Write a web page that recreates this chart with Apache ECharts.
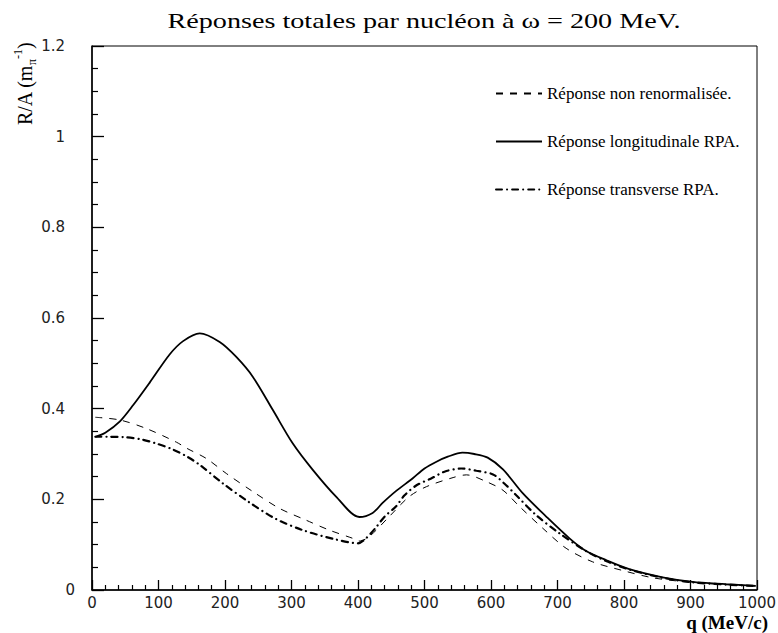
<!DOCTYPE html>
<html>
<head>
<meta charset="utf-8">
<script src="https://cdn.jsdelivr.net/npm/echarts@6/dist/echarts.min.js"></script>
<style>
  html, body { margin: 0; padding: 0; background: #fff; }
  #chart { width: 778px; height: 633px; }
</style>
</head>
<body>
<div id="chart"></div>
<script>
// Total response per nucleon at omega = 200 MeV, as a function of q (MeV/c)

// Non-renormalised response
const qBare = [5, 42, 82, 127, 142, 172, 202, 242, 282, 322, 357, 392, 402, 417, 447, 477, 503, 543, 563, 593, 618, 643, 678, 713, 753, 798, 843, 893, 950, 998];
const rBare = [0.381, 0.375, 0.356, 0.326, 0.313, 0.290, 0.257, 0.217, 0.180, 0.154, 0.132, 0.114, 0.108, 0.118, 0.162, 0.206, 0.228, 0.248, 0.254, 0.239, 0.220, 0.184, 0.136, 0.092, 0.062, 0.043, 0.027, 0.018, 0.012, 0.009];

// Longitudinal RPA response
const qLong = [5, 20, 42, 62, 87, 117, 137, 162, 192, 217, 242, 272, 302, 332, 367, 402, 422, 437, 457, 482, 500, 518, 535, 557, 575, 595, 618, 648, 683, 718, 743, 773, 808, 858, 903, 953, 998];
const rLong = [0.338, 0.347, 0.372, 0.408, 0.458, 0.520, 0.549, 0.566, 0.547, 0.514, 0.470, 0.397, 0.323, 0.265, 0.206, 0.161, 0.170, 0.192, 0.218, 0.246, 0.268, 0.283, 0.294, 0.303, 0.300, 0.292, 0.266, 0.213, 0.162, 0.114, 0.086, 0.066, 0.046, 0.028, 0.018, 0.013, 0.009];

// Transverse RPA response
const qTrans = [5, 25, 50, 75, 97, 120, 142, 162, 197, 235, 275, 317, 365, 400, 412, 427, 440, 457, 470, 488, 510, 530, 555, 578, 603, 620, 638, 668, 703, 743, 773, 808, 858, 903, 953, 998];
const rTrans = [0.338, 0.338, 0.337, 0.332, 0.323, 0.311, 0.295, 0.276, 0.235, 0.195, 0.158, 0.132, 0.112, 0.103, 0.114, 0.138, 0.162, 0.184, 0.209, 0.231, 0.246, 0.261, 0.268, 0.263, 0.255, 0.235, 0.209, 0.165, 0.125, 0.086, 0.064, 0.045, 0.027, 0.017, 0.012, 0.009];

const seriesNames = ['Réponse non renormalisée.', 'Réponse longitudinale RPA.', 'Réponse transverse RPA.'];
const titleText = 'Réponses totales par nucléon à ω = 200 MeV.';
const xName = 'q (MeV/c)';

const pairs = (xs, ys) => xs.map((x, i) => [x, ys[i]]);

const serif = '"Liberation Serif", "DejaVu Serif", serif';
const sans = '"DejaVu Sans", "Liberation Sans", sans-serif';

const chart = echarts.init(document.getElementById('chart'), null, { renderer: 'svg' });

chart.setOption({
  animation: false,
  backgroundColor: '#fff',
  grid: {
    left: 92, top: 46, width: 665, height: 544,
    outerBoundsMode: 'none', containLabel: false,
    show: true, borderColor: '#000', borderWidth: 1, backgroundColor: 'transparent'
  },
  legend: {
    orient: 'vertical',
    left: 490, top: 80,
    itemWidth: 46, itemHeight: 14, itemGap: 31,
    itemStyle: { opacity: 0 },
    textStyle: { fontFamily: serif, fontSize: 17, color: '#000' },
    data: seriesNames
  },
  xAxis: {
    type: 'value', min: 0, max: 1000, interval: 100,
    axisLine: { lineStyle: { color: '#000', width: 1.5 } },
    axisTick: { inside: true, length: 10, lineStyle: { color: '#000', width: 1.3 } },
    minorTick: { show: true, splitNumber: 5, length: 5, lineStyle: { color: '#000', width: 1.2 } },
    splitLine: { show: false },
    axisLabel: { fontFamily: sans, fontSize: 15, color: '#222', margin: 5, formatter: v => String(v) }
  },
  yAxis: {
    type: 'value', min: 0, max: 1.2, interval: 0.2,
    axisLine: { lineStyle: { color: '#000', width: 1.5 } },
    axisTick: { inside: true, length: 12, lineStyle: { color: '#000', width: 1.3 } },
    minorTick: { show: true, splitNumber: 4, length: 6, lineStyle: { color: '#000', width: 1.2 } },
    splitLine: { show: false },
    axisLabel: {
      fontFamily: sans, fontSize: 15, color: '#222', margin: 17,
      formatter: v => v === 0 ? '{z|0}' : '{n|' + (+v.toFixed(1)) + '}',
      rich: {
        z: { fontFamily: sans, fontSize: 15, color: '#222' },
        n: { fontFamily: sans, fontSize: 15, color: '#222', padding: [0, 10, 0, 0] }
      }
    }
  },
  graphic: [
    {
      // chart title, widened horizontally
      type: 'text',
      x: 424, y: 20, scaleX: 1.28, scaleY: 1,
      style: {
        text: titleText, align: 'center', verticalAlign: 'middle',
        fontFamily: serif, fontSize: 22, fill: '#000'
      }
    },
    {
      // horizontal axis title, under the right end of the axis
      type: 'text',
      x: 768, y: 622,
      style: {
        text: xName, align: 'right', verticalAlign: 'middle',
        fontFamily: serif, fontSize: 19, fontWeight: 'bold', fill: '#000'
      }
    },
    {
      // vertical axis title
      type: 'text',
      x: 25, y: 84,
      rotation: Math.PI / 2,
      style: {
        text: '{a|R/A (m}{sub|π}{sup|-1}{a|)}',
        align: 'center', verticalAlign: 'middle',
        rich: {
          a: { fontFamily: serif, fontSize: 20, color: '#000', lineHeight: 26, verticalAlign: 'middle' },
          sub: { fontFamily: serif, fontSize: 12, color: '#000', lineHeight: 26, verticalAlign: 'bottom' },
          sup: { fontFamily: serif, fontSize: 12, color: '#000', lineHeight: 26, verticalAlign: 'top' }
        }
      }
    }
  ],
  series: [
    {
      name: seriesNames[0], type: 'line', data: pairs(qBare, rBare),
      symbol: 'none', smooth: 0.3,
      lineStyle: { color: '#000', width: 1, type: [7, 7] },
      itemStyle: { color: '#000' }
    },
    {
      name: seriesNames[1], type: 'line', data: pairs(qLong, rLong),
      symbol: 'none', smooth: 0.3,
      lineStyle: { color: '#000', width: 1.8, type: 'solid' },
      itemStyle: { color: '#000' }
    },
    {
      name: seriesNames[2], type: 'line', data: pairs(qTrans, rTrans),
      symbol: 'none', smooth: 0.3,
      lineStyle: { color: '#000', width: 2.2, type: [6, 5, 0.1, 5], cap: 'round' },
      itemStyle: { color: '#000' }
    }
  ]
});
</script>
</body>
</html>
